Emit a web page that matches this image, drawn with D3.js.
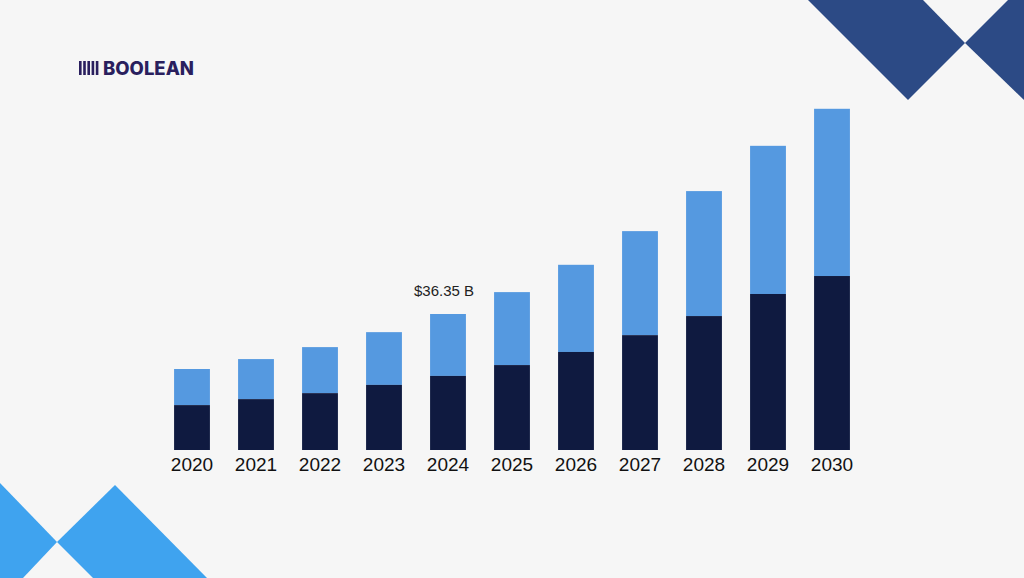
<!DOCTYPE html>
<html><head><meta charset="utf-8">
<script src="https://cdn.jsdelivr.net/npm/d3@7"></script>
<style>body{margin:0;background:#f6f6f6}</style>
</head><body>
<div id="chart"></div>
<script>
// values in USD billion
const years = ["2020","2021","2022","2023","2024","2025","2026","2027","2028","2029","2030"];
const lower = [12.0,13.6,15.2,17.4,19.8,22.7,26.2,30.7,35.8,41.7,46.5];
const totals = [21.65,24.3,27.5,31.5,36.35,42.2,49.5,58.5,69.2,81.3,91.2];
const labelYear = "2024", labelText = "$36.35 B";

const width = 1024, height = 578;
const svg = d3.select("#chart").append("svg")
	.attr("width", width).attr("height", height)
	.style("background", "#f6f6f6");

// corner decorations
const deco = [
	{pts: [[808,0],[923,0],[965,43],[908,100]], c: "#2c4a85"},
	{pts: [[965,43],[1008,0],[1024,0],[1024,100]], c: "#2c4a85"},
	{pts: [[0,483],[57,542],[23,578],[0,578]], c: "#3fa3ef"},
	{pts: [[57,542],[115,485],[207,578],[93,578]], c: "#3fa3ef"}
];
svg.selectAll(".deco").data(deco).enter().append("polygon")
	.attr("points", d => d.pts.join(" ")).attr("fill", d => d.c);

// logo
const logo = svg.append("g").attr("transform", "translate(79,61)");
[0,1,2,3,4].forEach(i => logo.append("rect").attr("x", i*4.2).attr("y", 0)
	.attr("width", 2.6).attr("height", 14).attr("fill", "#2a1f5e"));
logo.append("text").attr("x", 24).attr("y", 14).text("BOOLEAN")
	.attr("font-family", "Inter, sans-serif").attr("font-weight", 800)
	.attr("font-size", 18.5).attr("fill", "#2a1f5e");

const x = d3.scaleBand().domain(years).range([160, 864]).paddingInner(0.44).paddingOuter(0.22);
const y = d3.scaleLinear().domain([0, 36.35]).range([450, 314]);

const g = svg.append("g");
g.selectAll(".top").data(years).enter().append("rect")
	.attr("x", d => x(d)).attr("width", x.bandwidth())
	.attr("y", (d, i) => y(totals[i]))
	.attr("height", (d, i) => y(lower[i]) - y(totals[i]))
	.attr("fill", "#5599e0");
g.selectAll(".bot").data(years).enter().append("rect")
	.attr("x", d => x(d)).attr("width", x.bandwidth())
	.attr("y", (d, i) => y(lower[i]))
	.attr("height", (d, i) => y(0) - y(lower[i]))
	.attr("fill", "#0f1a40");

const axis = d3.axisBottom(x).tickSize(0).tickPadding(8);
const ax = svg.append("g").attr("transform", "translate(0,450)").call(axis);
ax.select(".domain").remove();
ax.selectAll("text").attr("font-family", "Liberation Sans, Arial, sans-serif")
	.attr("font-size", 19).attr("fill", "#111");

const li = years.indexOf(labelYear);
svg.append("text").attr("x", x(labelYear) + x.bandwidth()/2 - 4).attr("y", y(totals[li]) - 18)
	.attr("text-anchor", "middle").attr("font-family", "Liberation Sans, Arial, sans-serif")
	.attr("font-size", 15).attr("fill", "#222").text(labelText);
</script>
</body></html>
